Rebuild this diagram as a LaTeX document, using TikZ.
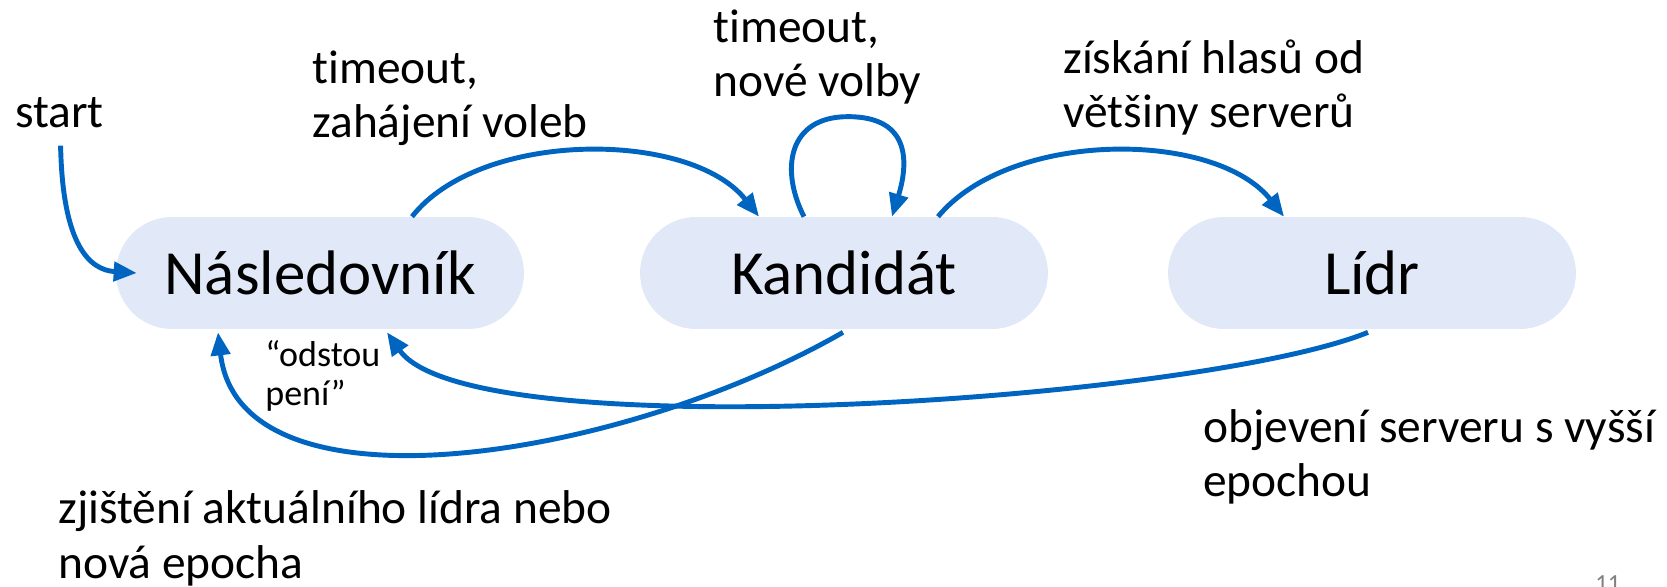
\documentclass[tikz,border=0pt]{standalone}
\usepackage{fontspec}
\setmainfont{Carlito}[Ligatures=NoCommon]
\usetikzlibrary{arrows.meta}
\usetikzlibrary{calc}
\definecolor{raftblue}{RGB}{0,101,192}
\definecolor{statefill}{RGB}{225,232,247}

\begin{document}
\begin{tikzpicture}[x=0.02cm,y=0.02cm,
  state/.style={fill=statefill, rounded corners=1.12cm, minimum width=8.16cm,
                minimum height=2.24cm, inner sep=0pt,
                font=\fontsize{35.8}{43}\selectfont},
  flow/.style={draw=raftblue, line width=2.8pt,
               -{Triangle[length=0.46cm,width=0.38cm]}},
  lbl/.style={anchor=base west, inner sep=0pt, align=left,
              font=\fontsize{27}{31.3}\selectfont},
  smalllbl/.style={lbl, font=\fontsize{20.5}{22.2}\selectfont}]
\useasboundingbox (0,0) rectangle (1667,-587);
% the three states
\node[state] (nasl) at (320,-273) {Následovník};
\node[state] (kand) at (844,-273) {Kandidát};
\node[state] (lidr) at (1372,-273) {Lídr};
% texts on the transitions (base = last line)
\node[lbl] (start) at (15,-128) {start};
\node[lbl] (tvolby) at (312,-138) {timeout,\\zahájení voleb};
\node[lbl] (tnove) at (713,-97) {timeout,\\nové volby};
\node[lbl] (hlasy) at (1063,-128) {získání hlasů od\\většiny serverů};
\node[smalllbl] (odst) at (265,-406) {“odstou\\pení”};
\node[lbl] (vyssi) at (1203,-497) {objevení serveru s vyšší\\epochou};
\node[lbl] (zjist) at (58,-578) {zjištění aktuálního lídra nebo\\nová epocha};
\node[anchor=base west, inner sep=0pt, text=gray,
      font=\fontsize{14}{17}\selectfont] (pgnum) at (1595,-591) {11};
% transitions
\draw[flow] ($(start.south)+(1,-17)$) .. controls +(2,-100) and +(-47,3) ..
            ($(nasl.west)+(21,0)$);
\draw[flow] ($(nasl.north)+(92,0)$) .. controls +(68,87) and +(-69,87) ..
            ($(kand.north)+(-85,0)$);
\draw[flow] ($(kand.north)+(-40,0)$) .. controls +(-24,47) and +(-60,0) ..
            ($(kand.north)+(4,100)$) .. controls +(64,0) and +(16,52) ..
            ($(kand.north)+(48,0)$);
\draw[flow] ($(kand.north)+(94,0)$) .. controls +(72,87) and +(-69,87) ..
            ($(lidr.north)+(-88,0)$);
\draw[flow] ($(kand.south)+(-1,-3)$) .. controls +(-223,-128) and +(22,-188) ..
            ($(nasl.south)+(-102,-3)$);
\draw[flow] ($(lidr.south)+(-4,-3)$) .. controls +(-168,-68) and +(83,-118) ..
            ($(nasl.south)+(67,-3)$);
\end{tikzpicture}
\end{document}
